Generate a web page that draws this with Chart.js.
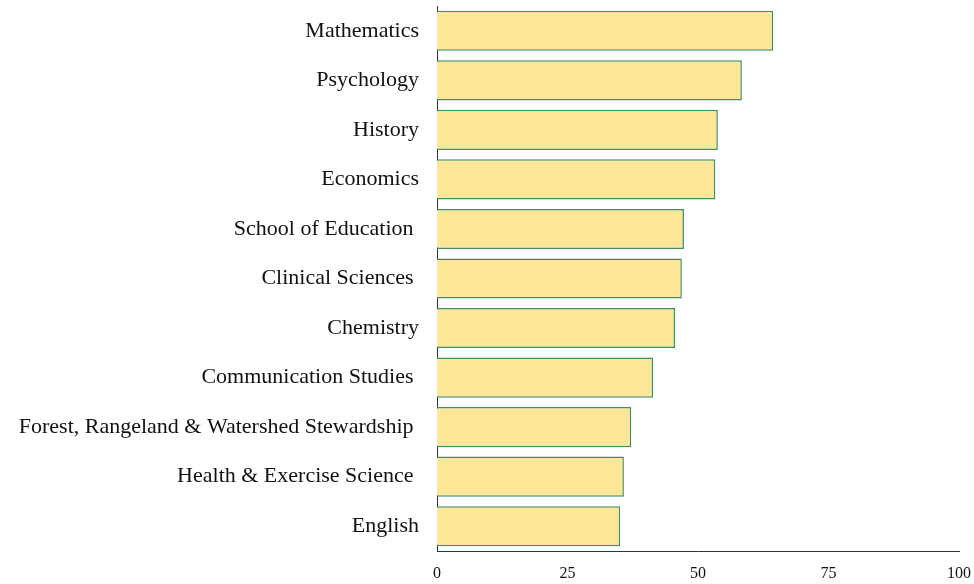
<!DOCTYPE html>
<html>
<head>
<meta charset="utf-8">
<script src="https://cdn.jsdelivr.net/npm/chart.js@4"></script>
<style>
  body { margin: 0; background: #fff; }
  #wrap { width: 974px; height: 584px; }
</style>
</head>
<body>
<div id="wrap"><canvas id="myChart"></canvas></div>
<script>
var departments = [
  "Mathematics", "Psychology", "History", "Economics", "School of Education ",
  "Clinical Sciences ", "Chemistry", "Communication Studies ",
  "Forest, Rangeland & Watershed Stewardship ", "Health & Exercise Science ", "English"
];
var scores = [64.4, 58.4, 53.8, 53.3, 47.3, 46.9, 45.6, 41.4, 37.2, 35.8, 35.1];
var xTicks = [0, 25, 50, 75, 100];

var ctx = document.getElementById('myChart').getContext('2d');
var myChart = new Chart(ctx, {
  type: 'bar',
  data: {
    labels: departments,
    datasets: [{
      data: scores,
      backgroundColor: "#FEE799",
      borderColor: "#3F9060",
      borderWidth: 1.5,
      barPercentage: 0.81,
      categoryPercentage: 1.0
    }]
  },
  options: {
    indexAxis: 'y',
    responsive: true,
    maintainAspectRatio: false,
    animation: false,
    layout: { padding: { top: 6, right: 15, left: 0, bottom: 0 } },
    plugins: {
      legend: { display: false },
      tooltip: { enabled: false }
    },
    scales: {
      x: {
        min: 0,
        max: 100,
        afterBuildTicks: function (axis) {
          axis.ticks = xTicks.map(function (v) { return { value: v }; });
        },
        grid: { display: false, drawTicks: false },
        border: { display: true, color: "#333", width: 1 },
        ticks: {
          color: "#111",
          padding: 13,
          font: { family: "'Liberation Serif', 'Times New Roman', serif", size: 16 }
        },
        afterFit: function (scale) { scale.height = 33; scale.paddingLeft = 0; scale.paddingRight = 0; }
      },
      y: {
        grid: { display: false, drawTicks: false },
        border: { display: true, color: "#333", width: 1 },
        ticks: {
          color: "#111",
          padding: 18,
          font: { family: "'Liberation Serif', 'Times New Roman', serif", size: 22 }
        },
        afterFit: function (scale) { scale.width = 437; scale.paddingTop = 0; scale.paddingBottom = 0; }
      }
    }
  }
});
</script>
</body>
</html>
